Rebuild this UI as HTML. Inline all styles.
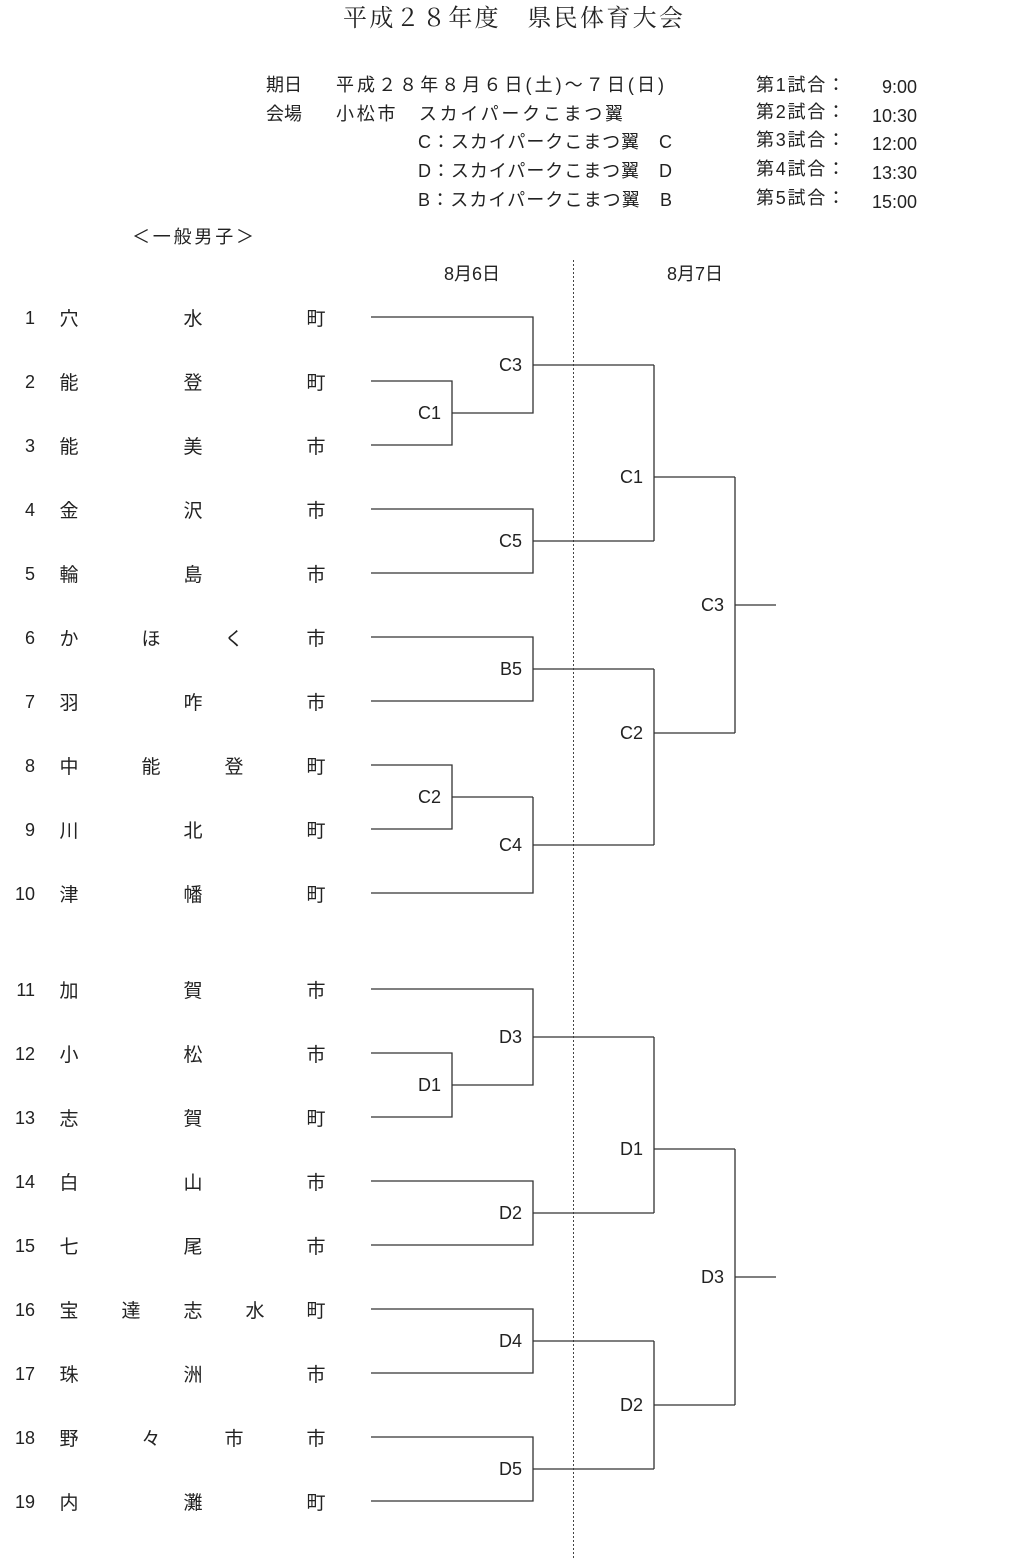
<!DOCTYPE html>
<html><head><meta charset="utf-8">
<style>
html,body{margin:0;padding:0;background:#fff;}
svg{display:block;}
text{font-family:"Liberation Sans","Noto Sans CJK JP",sans-serif;fill:#222;}
.n{font-size:19px;text-anchor:middle;}
.num{font-size:18px;text-anchor:end;}
.l{font-size:18px;text-anchor:end;}
.h{font-size:18px;}
</style></head><body>
<svg width="1024" height="1558" viewBox="0 0 1024 1558" xmlns="http://www.w3.org/2000/svg">
<text x="343" y="26" textLength="340" lengthAdjust="spacing" style="font-size:24px;font-family:'Liberation Serif','Noto Serif CJK SC',serif">平成２８年度　県民体育大会</text>
<g class="h">
<text x="266" y="91">期日</text><text x="336" y="91" textLength="328" lengthAdjust="spacing">平成２８年８月６日(土)～７日(日)</text>
<text x="266" y="120">会場</text><text x="336" y="120" textLength="287" lengthAdjust="spacing">小松市　スカイパークこまつ翼</text>
<text x="418" y="148" textLength="254" lengthAdjust="spacing">C：スカイパークこまつ翼　C</text>
<text x="418" y="177" textLength="254" lengthAdjust="spacing">D：スカイパークこまつ翼　D</text>
<text x="418" y="206" textLength="254" lengthAdjust="spacing">B：スカイパークこまつ翼　B</text>
<text x="756" y="91" textLength="89" lengthAdjust="spacing">第1試合：</text><text x="917" y="93" text-anchor="end">9:00</text>
<text x="756" y="118" textLength="89" lengthAdjust="spacing">第2試合：</text><text x="917" y="122" text-anchor="end">10:30</text>
<text x="756" y="146" textLength="89" lengthAdjust="spacing">第3試合：</text><text x="917" y="150" text-anchor="end">12:00</text>
<text x="756" y="175" textLength="89" lengthAdjust="spacing">第4試合：</text><text x="917" y="179" text-anchor="end">13:30</text>
<text x="756" y="204" textLength="89" lengthAdjust="spacing">第5試合：</text><text x="917" y="208" text-anchor="end">15:00</text>
<text x="132" y="243" textLength="122" lengthAdjust="spacing">＜一般男子＞</text>
<text x="472" y="280" text-anchor="middle">8月6日</text>
<text x="695" y="280" text-anchor="middle">8月7日</text>
</g>
<line x1="573.5" y1="260" x2="573.5" y2="1558" stroke="#444" stroke-width="1" stroke-dasharray="2,2"/>
<g stroke="#333" stroke-width="1.3" fill="none">
<polyline points="371,317 533,317 533,413 452,413"/>
<polyline points="371,381 452,381 452,445 371,445"/>
<line x1="533" y1="365" x2="654" y2="365"/>
<polyline points="371,509 533,509 533,573 371,573"/>
<line x1="533" y1="541" x2="654" y2="541"/>
<polyline points="371,637 533,637 533,701 371,701"/>
<line x1="533" y1="669" x2="654" y2="669"/>
<polyline points="371,765 452,765 452,829 371,829"/>
<line x1="452" y1="797" x2="533" y2="797"/>
<polyline points="533,797 533,893 371,893"/>
<line x1="533" y1="845" x2="654" y2="845"/>
<line x1="654" y1="365" x2="654" y2="541"/>
<line x1="654" y1="669" x2="654" y2="845"/>
<line x1="654" y1="477" x2="735" y2="477"/>
<line x1="654" y1="733" x2="735" y2="733"/>
<line x1="735" y1="477" x2="735" y2="733"/>
<line x1="735" y1="605" x2="776" y2="605"/>
<polyline points="371,989 533,989 533,1085 452,1085"/>
<polyline points="371,1053 452,1053 452,1117 371,1117"/>
<line x1="533" y1="1037" x2="654" y2="1037"/>
<polyline points="371,1181 533,1181 533,1245 371,1245"/>
<line x1="533" y1="1213" x2="654" y2="1213"/>
<polyline points="371,1309 533,1309 533,1373 371,1373"/>
<line x1="533" y1="1341" x2="654" y2="1341"/>
<polyline points="371,1437 533,1437 533,1501 371,1501"/>
<line x1="533" y1="1469" x2="654" y2="1469"/>
<line x1="654" y1="1037" x2="654" y2="1213"/>
<line x1="654" y1="1341" x2="654" y2="1469"/>
<line x1="654" y1="1149" x2="735" y2="1149"/>
<line x1="654" y1="1405" x2="735" y2="1405"/>
<line x1="735" y1="1149" x2="735" y2="1405"/>
<line x1="735" y1="1277" x2="776" y2="1277"/>
</g>
<g class="l">
<text x="522" y="371">C3</text><text x="441" y="419">C1</text><text x="522" y="547">C5</text>
<text x="522" y="675">B5</text><text x="441" y="803">C2</text><text x="522" y="851">C4</text>
<text x="643" y="483">C1</text><text x="643" y="739">C2</text><text x="724" y="611">C3</text>
<text x="522" y="1043">D3</text><text x="441" y="1091">D1</text><text x="522" y="1219">D2</text>
<text x="522" y="1347">D4</text><text x="522" y="1475">D5</text>
<text x="643" y="1155">D1</text><text x="643" y="1411">D2</text><text x="724" y="1283">D3</text>
</g>
<g class="num">
<text x="35" y="324">1</text><text x="35" y="388">2</text><text x="35" y="452">3</text><text x="35" y="516">4</text>
<text x="35" y="580">5</text><text x="35" y="644">6</text><text x="35" y="708">7</text><text x="35" y="772">8</text>
<text x="35" y="836">9</text><text x="35" y="900">10</text><text x="35" y="996">11</text><text x="35" y="1060">12</text>
<text x="35" y="1124">13</text><text x="35" y="1188">14</text><text x="35" y="1252">15</text><text x="35" y="1316">16</text>
<text x="35" y="1380">17</text><text x="35" y="1444">18</text><text x="35" y="1508">19</text>
</g>
<g class="n">
<text x="69" y="325">穴</text><text x="193" y="325">水</text><text x="316" y="325">町</text>
<text x="69" y="389">能</text><text x="193" y="389">登</text><text x="316" y="389">町</text>
<text x="69" y="453">能</text><text x="193" y="453">美</text><text x="316" y="453">市</text>
<text x="69" y="517">金</text><text x="193" y="517">沢</text><text x="316" y="517">市</text>
<text x="69" y="581">輪</text><text x="193" y="581">島</text><text x="316" y="581">市</text>
<text x="69" y="645">か</text><text x="151" y="645">ほ</text><text x="234" y="645">く</text><text x="316" y="645">市</text>
<text x="69" y="709">羽</text><text x="193" y="709">咋</text><text x="316" y="709">市</text>
<text x="69" y="773">中</text><text x="151" y="773">能</text><text x="234" y="773">登</text><text x="316" y="773">町</text>
<text x="69" y="837">川</text><text x="193" y="837">北</text><text x="316" y="837">町</text>
<text x="69" y="901">津</text><text x="193" y="901">幡</text><text x="316" y="901">町</text>
<text x="69" y="997">加</text><text x="193" y="997">賀</text><text x="316" y="997">市</text>
<text x="69" y="1061">小</text><text x="193" y="1061">松</text><text x="316" y="1061">市</text>
<text x="69" y="1125">志</text><text x="193" y="1125">賀</text><text x="316" y="1125">町</text>
<text x="69" y="1189">白</text><text x="193" y="1189">山</text><text x="316" y="1189">市</text>
<text x="69" y="1253">七</text><text x="193" y="1253">尾</text><text x="316" y="1253">市</text>
<text x="69" y="1317">宝</text><text x="131" y="1317">達</text><text x="193" y="1317">志</text><text x="255" y="1317">水</text><text x="316" y="1317">町</text>
<text x="69" y="1381">珠</text><text x="193" y="1381">洲</text><text x="316" y="1381">市</text>
<text x="69" y="1445">野</text><text x="151" y="1445">々</text><text x="234" y="1445">市</text><text x="316" y="1445">市</text>
<text x="69" y="1509">内</text><text x="193" y="1509">灘</text><text x="316" y="1509">町</text>
</g>
</svg>
</body></html>
